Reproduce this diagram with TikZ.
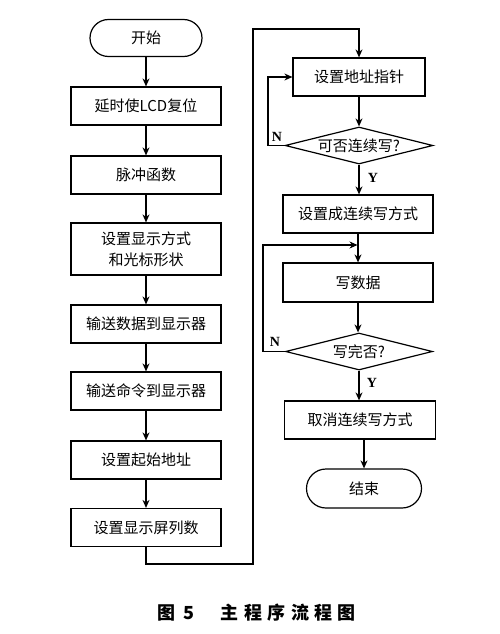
\documentclass[tikz,border=0pt]{standalone}
\usepackage{fontspec}
\setmainfont{Liberation Serif}
\newfontfamily\cjk{Noto Sans CJK SC}
\usetikzlibrary{shapes.geometric,arrows.meta}
\begin{document}
\begin{tikzpicture}[x=1pt,y=-1pt,line width=1.2pt,
  box/.style={draw, rectangle, minimum width=150pt, minimum height=38pt, inner sep=0pt,
    font=\cjk\fontsize{15}{21}\selectfont, align=center},
  term/.style={box, rounded corners=18.5pt},
  dec/.style={draw, diamond, aspect=4, inner sep=0pt, minimum width=148pt, minimum height=37pt,
    font=\cjk\fontsize{15}{18}\selectfont},
  lab/.style={font=\fontsize{14}{16}\selectfont\bfseries, inner sep=0pt},
  arr/.style={-{Stealth[length=8pt,width=7pt]}}]
\fill[white] (0,0) rectangle (500,634);
\useasboundingbox (0,0) rectangle (500,634);
% left column
\node[term, minimum width=112pt, minimum height=37pt] (start) at (146,38) {开始};
\node[box] (b1) at (146,106) {延时使LCD复位};
\node[box] (b2) at (146,175) {脉冲函数};
\node[box, minimum height=52pt] (b3) at (146,249) {设置显示方式\\和光标形状};
\node[box] (b4) at (146,324) {输送数据到显示器};
\node[box] (b5) at (146,391) {输送命令到显示器};
\node[box] (b6) at (146,460) {设置起始地址};
\node[box] (b7) at (146,527.5) {设置显示屏列数};
% right column
\node[box, minimum width=132pt] (r1) at (359,77) {设置地址指针};
\node[dec] (d1) at (359,145.5) {可否连续写?};
\node[box] (r2) at (358,214) {设置成连续写方式};
\node[box, minimum height=39pt] (r3) at (358,282.5) {写数据};
\node[dec, minimum width=147pt] (d2) at (359,351.5) {写完否?};
\node[box, minimum width=151pt] (r4) at (360,420) {取消连续写方式};
\node[term, minimum width=115pt, minimum height=39pt, rounded corners=19.5pt] (end) at (364,488.5) {结束};
% connectors left
\draw[arr] (start) -- (b1);
\draw[arr] (b1) -- (b2);
\draw[arr] (b2) -- (b3);
\draw[arr] (b3) -- (b4);
\draw[arr] (b4) -- (b5);
\draw[arr] (b5) -- (b6);
\draw[arr] (b6) -- (b7);
\coordinate (c1) at (146,564);
\coordinate (c2) at (253,564);
\coordinate (c3) at (253,29);
\draw[arr] (b7.south) -- (c1) -- (c2) -- (c3) -- (c3 -| r1.north) -- (r1.north);
% right connectors
\draw[arr] (r1) -- (d1);
\coordinate (n1) at (268,145.5);
\draw[arr] (d1.west) -- (n1) |- (r1.west);
\node[lab] (nl1) at (277,137) {N};
\draw[arr] (d1.south) -- (d1.south |- r2.north);
\node[lab] (yl1) at (373,178) {Y};
\coordinate (m) at (358,245);
\draw[arr] (r2.south) -- (r3.north);
\coordinate (n2) at (263,351.5);
\draw[arr] (d2.west) -- (n2) -- (n2 |- m) -- ([xshift=-0.5pt]m);
\node[lab] (nl2) at (275,342) {N};
\draw[arr] (r3.south) -- (r3.south |- d2.north);
\draw[arr] (d2.south) -- (d2.south |- r4.north);
\node[lab] (yl2) at (372,383) {Y};
\draw[arr] (end.north |- r4.south) -- (end.north);
% caption
\node[font=\cjk\bfseries\fontsize{18}{20}\selectfont, inner sep=0pt] (cap) at (256.5,613)
  {图\hspace{8pt}5\hspace{27pt}主\hspace{5.4pt}程\hspace{5.4pt}序\hspace{5.4pt}流\hspace{5.4pt}程\hspace{5.4pt}图};
\end{tikzpicture}
\end{document}
